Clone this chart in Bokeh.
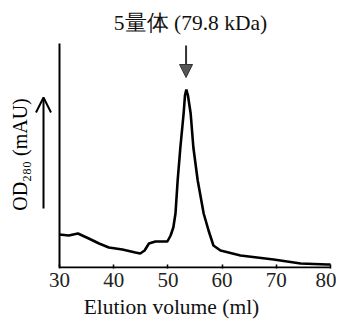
from bokeh.plotting import figure
from bokeh.models import Label, Arrow, OpenHead, NormalHead, Range1d, FixedTicker
from bokeh.embed import file_html
from bokeh.resources import INLINE

# ---- data ----
volume_ml = [30, 31.7, 33.4, 35.4, 37.3, 39.1, 41.6, 44.0, 44.9, 45.7, 46.5, 47.7,
             48.9, 49.9, 50.5, 51.0, 51.4, 51.8, 52.3, 52.9, 53.15, 53.4, 53.7,
             54.2, 54.7, 55.5, 56.6, 57.5, 58.4, 59.7, 63.4, 69.5, 74.5, 79.4, 80]
od280 = [33, 32, 34, 29, 24, 20, 18, 15, 14, 17, 24, 26,
         26, 26, 32, 40, 54, 87, 120, 154, 172, 178, 172,
         154, 120, 87, 54, 37, 22, 17, 12, 8, 4, 3, 3]
x_ticks = [30, 40, 50, 60, 70, 80]
y_axis_top = 224
title_text = "5量体 (79.8 kDa)"
peak_ml = 53.35
x_label = "Elution volume (ml)"
y_label = "OD₂₈₀ (mAU)"

SERIF = "'Times New Roman', 'Liberation Serif', 'DejaVu Serif', serif"

PX_PER_ML = 271 / 50.0
p = figure(frame_width=322, frame_height=264, output_backend="svg", toolbar_location=None,
           x_range=Range1d(30 - 49 / PX_PER_ML, 80 + 2 / PX_PER_ML),
           y_range=Range1d(-1, 263))
p.min_border_left = 10
p.min_border_right = 4
p.min_border_top = 4
p.min_border_bottom = 49
p.outline_line_color = None
p.grid.visible = False
p.background_fill_color = "white"
p.border_fill_color = "white"

# axis lines
p.segment(x0=[x_ticks[0], x_ticks[0]], y0=[0, 0], x1=[x_ticks[-1], x_ticks[0]],
          y1=[0, y_axis_top], line_color="black", line_width=2)

p.line(volume_ml, od280, line_color="black", line_width=2.6)

# x axis (ticks + labels)
xa = p.xaxis[0]
xa.ticker = FixedTicker(ticks=x_ticks)
xa.axis_line_color = None
xa.minor_tick_line_color = None
xa.major_tick_in = 4
xa.major_tick_out = 0
xa.major_tick_line_width = 1.5
xa.major_tick_line_color = "black"
xa.major_label_text_font = SERIF
xa.major_label_text_font_size = "21px"
xa.major_label_text_color = "#222222"
xa.major_label_standoff = 4
xa.axis_label = x_label
xa.axis_label_text_font = SERIF
xa.axis_label_text_font_size = "21.5px"
xa.axis_label_text_font_style = "normal"
xa.axis_label_text_color = "#111111"
xa.axis_label_standoff = 5

p.yaxis.visible = False

# y label
p.add_layout(Label(x=22.8, y=113, text=y_label, angle=1.5708,
                   text_font=SERIF, text_font_size="20px", text_color="black",
                   text_align="center", text_baseline="middle"))

# up arrow beside y label
p.add_layout(Arrow(x_start=27.05, y_start=59, x_end=27.05, y_end=170,
                   line_width=2, line_color="black",
                   end=OpenHead(size=15, line_width=2, line_color="black")))

# title
p.add_layout(Label(x=54.17, y=245, text=title_text,
                   text_font=SERIF, text_font_size="21.5px", text_color="#111111",
                   text_align="center", text_baseline="middle"))

# peak marker arrow
p.add_layout(Arrow(x_start=peak_ml, y_start=222, x_end=peak_ml, y_end=190,
                   line_width=2, line_color="#333333",
                   end=NormalHead(size=13, fill_color="#555555", line_color="#333333",
                                  line_width=1)))

open("out.html", "w").write(file_html(p, INLINE))
